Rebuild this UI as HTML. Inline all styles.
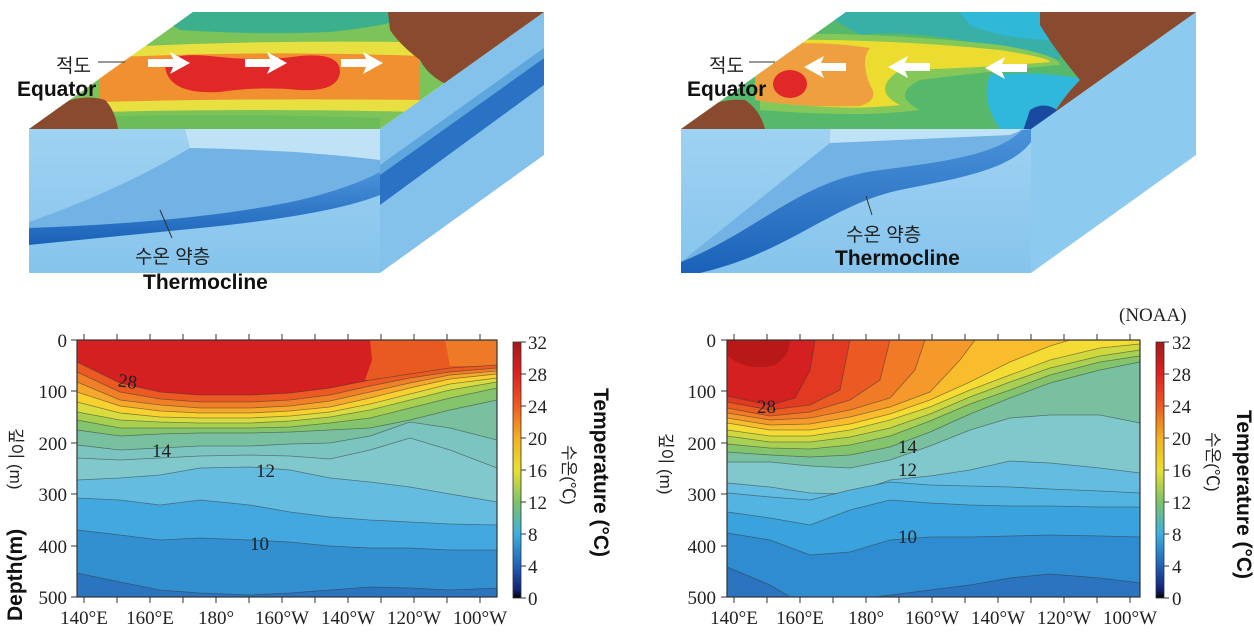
<!DOCTYPE html>
<html><head><meta charset="utf-8"><style>
html,body{margin:0;padding:0;background:#fff;width:1254px;height:635px;overflow:hidden}
svg text{font-family:"Liberation Serif","Noto Serif CJK SC",serif}
.s{font-family:"Liberation Sans","Noto Sans CJK KR",sans-serif}
.tk{font-size:19px;fill:#222}
.cl{font-size:19px;fill:#222}
.ln{stroke:#333;stroke-opacity:.55;stroke-width:.8}
</style></head><body>
<svg width="1254" height="635" viewBox="0 0 1254 635" xmlns="http://www.w3.org/2000/svg">
<defs>
<linearGradient id="cb" x1="0" y1="0" x2="0" y2="1">
<stop offset="0" stop-color="#a51a1a"/><stop offset=".125" stop-color="#e02020"/><stop offset=".25" stop-color="#f05a20"/><stop offset=".375" stop-color="#f5b020"/><stop offset=".5" stop-color="#e8e030"/><stop offset=".625" stop-color="#7cc36a"/><stop offset=".75" stop-color="#3cb0e0"/><stop offset=".875" stop-color="#2060b8"/><stop offset=".97" stop-color="#102070"/><stop offset="1" stop-color="#000"/>
</linearGradient>
<linearGradient id="fr" x1="0" y1="0" x2="0" y2="1"><stop offset="0" stop-color="#9fd2f2"/><stop offset="1" stop-color="#86c4ec"/></linearGradient>
<linearGradient id="th" x1="0" y1="0" x2="0" y2="1"><stop offset="0" stop-color="#4a92d8"/><stop offset="1" stop-color="#1a62b8"/></linearGradient>
<clipPath id="tl"><polygon points="29,129 380,129 544,12 193,12"/></clipPath>
<clipPath id="tr"><polygon points="681,129 1031,129 1196,12 846,12"/></clipPath>
</defs>

<!-- LEFT BOX -->
<rect x="29" y="129" width="351" height="144" fill="url(#fr)"/>
<polygon points="185,129 380,129 380,165 300,152 190,148" fill="#bfe2f7"/>
<path d="M29,222 Q120,190 190,148 Q300,150 380,160 L380,190 Q300,205 200,218 Q100,228 29,238 Z" fill="#72b2e4"/>
<path d="M29,228 Q200,222 300,200 Q350,188 380,172 L380,195 Q330,215 200,228 Q100,238 29,245 Z" fill="url(#th)"/>
<polygon points="380,129 544,12 544,155 380,273" fill="#84c2ec"/>
<polygon points="380,175 544,58 544,85 380,205" fill="#2a72c4"/>
<polygon points="380,165 544,48 544,58 380,175" fill="#5ea6de"/>
<g clip-path="url(#tl)">
<rect x="0" y="0" width="600" height="140" fill="#7cc45a"/>
<path d="M150,12 L420,12 Q400,25 330,32 Q250,35 180,30 Z" fill="#3cb08c"/>
<path d="M100,48 Q250,40 400,42 L420,60 L420,112 Q250,108 100,112 Z" fill="#e8e040"/>
<path d="M100,58 Q250,50 420,56 L420,100 Q250,98 100,102 Z" fill="#f09030"/>
<path d="M165,66 Q170,52 210,56 Q260,62 300,56 Q340,52 340,72 Q338,92 300,90 Q260,86 220,92 Q168,95 165,66 Z" fill="#e02828"/>
<path d="M60,118 Q200,112 380,118 L380,140 L60,140 Z" fill="#6cbc5a"/>
<path d="M388,12 L560,12 L460,90 Q430,80 420,60 Q400,45 390,30 Z" fill="#8a4a30"/>
<path d="M20,129 L118,129 Q115,110 105,100 Q90,95 70,100 Z" fill="#8a4a30"/>
<polygon points="148,59 173,59 170,52 190,63 170,74 173,67 148,67" fill="#fff"/>
<polygon points="245,59 270,59 267,52 287,63 267,74 270,67 245,67" fill="#fff"/>
<polygon points="341,59 366,59 363,52 383,63 363,74 366,67 341,67" fill="#fff"/>
</g>
<text x="56" y="72" class="s" font-size="19" fill="#222">적도</text>
<line x1="98" y1="62" x2="125" y2="62" stroke="#333" stroke-width="1"/>
<text x="17" y="96" class="s" font-size="21" font-weight="bold" fill="#111">Equator</text>
<line x1="160" y1="210" x2="172" y2="238" stroke="#333" stroke-width="1"/>
<text x="135" y="263" class="s" font-size="19" fill="#222">수온 약층</text>
<text x="143" y="289" class="s" font-size="21" font-weight="bold" fill="#111">Thermocline</text>

<!-- RIGHT BOX -->
<rect x="681" y="129" width="350" height="144" fill="url(#fr)"/>
<polygon points="830,129 1020,129 1015,138 830,145" fill="#bfe2f7"/>
<path d="M681,262 L830,143 L1010,135 L1022,130 C1000,152 960,160 880,170 C800,180 760,230 681,262 Z" fill="#72b2e4"/>
<path d="M681,262 C760,230 800,180 880,170 C960,160 1000,152 1022,130 L1031,129 L1031,142 C1010,170 960,178 900,190 C830,205 790,252 700,273 L681,273 Z" fill="url(#th)"/>
<polygon points="1031,129 1196,12 1196,155 1031,273" fill="#8ccaf0"/>
<g clip-path="url(#tr)">
<rect x="600" y="0" width="700" height="140" fill="#56b86a"/>
<path d="M820,12 L1060,12 L1060,60 Q1000,50 960,40 Q900,30 860,35 Z" fill="#38b0a8"/>
<path d="M960,12 L1050,12 L1050,40 Q1000,38 970,25 Z" fill="#30b8d8"/>
<path d="M760,35 Q860,30 1000,45 Q1060,55 1060,65 Q1000,70 920,80 Q890,95 920,110 Q860,118 760,110 Z" fill="#84c85a"/>
<path d="M760,40 Q880,38 1000,50 Q1050,58 1050,62 Q980,68 900,70 Q870,90 900,105 Q840,112 760,100 Z" fill="#ecdc30"/>
<path d="M755,45 Q820,40 870,48 Q860,60 870,85 Q880,100 860,106 Q800,108 755,100 Z" fill="#eea040"/>
<ellipse cx="790" cy="84" rx="17" ry="14" fill="#e02828"/>
<path d="M990,75 Q1040,70 1090,80 L1060,129 L1000,129 Q980,100 990,75 Z" fill="#30b8dc"/>
<path d="M1030,110 Q1045,100 1060,112 L1050,140 L1020,140 Z" fill="#1a4aa0"/>
<path d="M1040,12 L1210,12 L1110,80 Q1080,100 1060,129 L1045,129 Q1060,100 1080,80 Q1055,50 1040,25 Z" fill="#8a4a30"/>
<path d="M660,129 L765,129 Q760,110 745,100 Q720,98 700,110 Z" fill="#8a4a30"/>
<polygon points="846,63 821,63 824,56 804,67 824,78 821,71 846,71" fill="#fff"/>
<polygon points="930,63 905,63 908,56 888,67 908,78 905,71 930,71" fill="#fff"/>
<polygon points="1027,64 1002,64 1005,57 985,68 1005,79 1002,72 1027,72" fill="#fff"/>
</g>
<text x="709" y="72" class="s" font-size="19" fill="#222">적도</text>
<line x1="749" y1="62" x2="775" y2="62" stroke="#333" stroke-width="1"/>
<text x="687" y="96" class="s" font-size="21" font-weight="bold" fill="#111">Equator</text>
<line x1="866" y1="196" x2="872" y2="215" stroke="#333" stroke-width="1"/>
<text x="846" y="241" class="s" font-size="19" fill="#222">수온 약층</text>
<text x="835" y="265" class="s" font-size="21" font-weight="bold" fill="#111">Thermocline</text>

<!-- LEFT CHART -->
<g>
<rect x="77" y="340" width="420" height="257" fill="#d42020"/>
<path d="M370,340 L372,360 L365,380 L497,380 L497,340 Z" fill="#e85a22"/>
<path d="M445,340 L450,366 L497,366 L497,340 Z" fill="#ee7a28"/>
<g class="ln">
<path d="M77,597 L77,362 L120,383 L160,392 L200,395 L250,395 L290,393 L330,388 L370,380 L410,374 L450,368 L497,365 L497,597 Z" fill="#ea5a22"/>
<path d="M77,597 L77,372 L120,392 L160,399 L200,402 L250,402 L290,400 L330,395 L370,386 L410,378 L450,372 L497,368 L497,597 Z" fill="#f08028"/>
<path d="M77,597 L77,382 L120,400 L160,405 L200,408 L250,408 L290,406 L330,401 L370,392 L410,383 L450,375 L497,371 L497,597 Z" fill="#f5a82c"/>
<path d="M77,597 L77,392 L120,406 L160,411 L200,413 L250,413 L290,411 L330,407 L370,398 L410,388 L450,379 L497,374 L497,597 Z" fill="#f8d030"/>
<path d="M77,597 L77,402 L120,413 L160,417 L200,418 L250,418 L290,416 L330,412 L370,404 L410,394 L450,384 L497,378 L497,597 Z" fill="#d8dc40"/>
<path d="M77,597 L77,412 L120,420 L160,422 L200,423 L250,423 L290,421 L330,417 L370,410 L410,400 L450,390 L497,382 L497,597 Z" fill="#a8d050"/>
<path d="M77,597 L77,420 L120,428 L160,428 L200,428 L250,428 L290,427 L330,423 L370,418 L410,408 L450,398 L497,388 L497,597 Z" fill="#84c46c"/>
<path d="M77,597 L77,430 L120,436 L160,434 L200,433 L250,433 L290,432 L330,430 L370,428 L410,420 L450,410 L497,400 L497,597 Z" fill="#78c0a0"/>
<path d="M77,597 L77,445 L120,450 L160,448 L200,446 L250,446 L290,444 L330,443 L370,436 L410,422 L450,428 L497,440 L497,597 Z" fill="#7cc4c0"/>
<path d="M77,597 L77,458 L120,460 L160,458 L200,456 L250,455 L290,456 L330,459 L370,450 L410,438 L450,450 L497,468 L497,597 Z" fill="#80c8cc"/>
<path d="M77,597 L77,480 L120,478 L160,475 L200,468 L250,467 L290,470 L330,478 L370,482 L410,487 L450,494 L497,502 L497,597 Z" fill="#64bce0"/>
<path d="M77,597 L77,498 L120,500 L160,505 L200,500 L250,505 L290,512 L330,517 L370,520 L410,522 L450,524 L497,525 L497,597 Z" fill="#44a8e0"/>
<path d="M77,597 L77,530 L120,535 L160,540 L200,538 L250,540 L290,542 L330,546 L370,548 L410,548 L450,550 L497,550 L497,597 Z" fill="#3290d0"/>
<path d="M77,597 L77,573 L120,582 L160,590 L200,593 L250,595 L290,593 L330,590 L370,587 L410,588 L450,590 L497,588 L497,597 Z" fill="#2a74c0"/>
</g>
<rect x="77" y="340" width="420" height="257" fill="none" stroke="#333" stroke-width="1.2"/>
<text x="118" y="388" class="cl" transform="rotate(8 130 382)">28</text>
<text x="152" y="457" class="cl">14</text>
<text x="256" y="477" class="cl">12</text>
<text x="250" y="550" class="cl">10</text>
<g stroke="#333" stroke-width="1">
<path d="M84,597v6M117,597v6M150,597v6M183,597v6M216,597v6M249,597v6M282,597v6M315,597v6M348,597v6M381,597v6M414,597v6M447,597v6M480,597v6"/>
<path d="M84,340v-6M117,340v-6M150,340v-6M183,340v-6M216,340v-6M249,340v-6M282,340v-6M315,340v-6M348,340v-6M381,340v-6M414,340v-6M447,340v-6M480,340v-6"/>
<path d="M77,340h-6M77,391h-6M77,443h-6M77,494h-6M77,546h-6M77,597h-6"/>
</g>
<g class="tk" text-anchor="end">
<text x="67" y="347">0</text><text x="67" y="398">100</text><text x="67" y="450">200</text><text x="67" y="501">300</text><text x="67" y="553">400</text><text x="67" y="604">500</text>
</g>
<g class="tk" text-anchor="middle">
<text x="84" y="624">140°E</text><text x="150" y="624">160°E</text><text x="216" y="624">180°</text><text x="282" y="624">160°W</text><text x="348" y="624">140°W</text><text x="414" y="624">120°W</text><text x="480" y="624">100°W</text>
</g>
<rect x="513" y="342" width="8" height="256" fill="url(#cb)" stroke="#333" stroke-width=".8"/>
<g stroke="#333"><path d="M521,342h5M521,374h5M521,406h5M521,438h5M521,470h5M521,502h5M521,534h5M521,566h5M521,598h5"/></g>
<g class="tk">
<text x="528" y="349">32</text><text x="528" y="381">28</text><text x="528" y="413">24</text><text x="528" y="445">20</text><text x="528" y="477">16</text><text x="528" y="509">12</text><text x="528" y="541">8</text><text x="528" y="573">4</text><text x="528" y="605">0</text>
</g>
<text class="s" font-size="17" fill="#222" transform="translate(563,445) rotate(90)">수온(℃)</text>
<text class="s" font-size="21" font-weight="bold" fill="#111" transform="translate(594,388) rotate(90)">Temperature (°C)</text>
<text class="s" font-size="17" fill="#222" transform="translate(10,428) rotate(90)">깊이 (m)</text>
<text class="s" font-size="21" font-weight="bold" fill="#111" transform="translate(22,621) rotate(-90)">Depth(m)</text>
</g>

<!-- RIGHT CHART -->
<g>
<rect x="727" y="340" width="413" height="257" fill="#d42020"/>
<path d="M727,340 L727,355 Q745,372 775,365 Q790,355 790,340 Z" fill="#b81818"/>
<g class="ln">
<path d="M727,597 L727,396 L770,405 L795,398 L810,370 L815,340 L1140,340 L1140,597 Z" fill="#e23a22"/>
<path d="M727,597 L727,402 L770,410 L810,405 L840,390 L850,340 L1140,340 L1140,597 Z" fill="#ea5a22"/>
<path d="M727,597 L727,408 L770,416 L810,412 L850,400 L880,380 L890,340 L1140,340 L1140,597 Z" fill="#f07a26"/>
<path d="M727,597 L727,413 L770,420 L810,418 L850,410 L890,398 L915,370 L925,340 L1140,340 L1140,597 Z" fill="#f59a2a"/>
<path d="M727,597 L727,418 L770,425 L810,424 L850,417 L890,407 L930,392 L960,360 L975,340 L1140,340 L1140,597 Z" fill="#f8bc2c"/>
<path d="M727,597 L727,423 L770,430 L810,430 L850,424 L890,414 L930,400 L970,382 L1010,362 L1050,346 L1070,340 L1140,340 L1140,597 Z" fill="#f5dc34"/>
<path d="M727,597 L727,430 L770,436 L810,436 L850,430 L890,420 L930,407 L970,390 L1010,375 L1050,360 L1100,348 L1140,344 L1140,597 Z" fill="#d0d840"/>
<path d="M727,597 L727,436 L770,442 L810,442 L850,437 L890,428 L930,414 L970,397 L1010,382 L1050,368 L1100,356 L1140,350 L1140,597 Z" fill="#a8d054"/>
<path d="M727,597 L727,444 L770,448 L810,449 L850,445 L890,436 L930,421 L970,404 L1010,390 L1050,375 L1100,362 L1140,356 L1140,597 Z" fill="#84c46c"/>
<path d="M727,597 L727,452 L770,455 L810,457 L850,455 L890,447 L930,432 L970,414 L1010,398 L1050,383 L1100,370 L1140,362 L1140,597 Z" fill="#78c0a0"/>
<path d="M727,597 L727,462 L770,462 L810,466 L850,468 L890,460 L930,446 L970,430 L1010,418 L1050,415 L1100,415 L1140,423 L1140,597 Z" fill="#80c8cc"/>
<path d="M727,597 L727,483 L770,487 L810,493 L850,494 L890,480 L930,476 L970,470 L1010,461 L1050,463 L1100,468 L1140,473 L1140,597 Z" fill="#64bce0"/>
<path d="M727,597 L727,493 L770,497 L810,500 L850,490 L890,482 L930,485 L970,486 L1010,487 L1050,489 L1100,491 L1140,493 L1140,597 Z" fill="#52b4e0"/>
<path d="M727,597 L727,512 L770,518 L810,525 L850,510 L890,500 L930,503 L970,505 L1010,506 L1050,506 L1100,507 L1140,507 L1140,597 Z" fill="#3aa2dc"/>
<path d="M727,597 L727,533 L770,540 L810,555 L850,552 L890,540 L930,537 L970,537 L1010,536 L1050,535 L1100,536 L1140,537 L1140,597 Z" fill="#2f8cd0"/>
<path d="M727,597 L727,567 L770,585 L790,597 L875,597 L930,590 L970,585 L1010,578 L1050,574 L1100,578 L1140,583 L1140,597 Z" fill="#2a74c0"/>
</g>
<rect x="727" y="340" width="413" height="257" fill="none" stroke="#333" stroke-width="1.2"/>
<text x="757" y="413" class="cl">28</text>
<text x="898" y="453" class="cl">14</text>
<text x="898" y="476" class="cl">12</text>
<text x="898" y="543" class="cl">10</text>
<g stroke="#333" stroke-width="1">
<path d="M734,597v6M767,597v6M800,597v6M833,597v6M866,597v6M899,597v6M932,597v6M965,597v6M998,597v6M1031,597v6M1064,597v6M1097,597v6M1130,597v6"/>
<path d="M734,340v-6M767,340v-6M800,340v-6M833,340v-6M866,340v-6M899,340v-6M932,340v-6M965,340v-6M998,340v-6M1031,340v-6M1064,340v-6M1097,340v-6M1130,340v-6"/>
<path d="M727,340h-6M727,391h-6M727,443h-6M727,494h-6M727,546h-6M727,597h-6"/>
</g>
<g class="tk" text-anchor="end">
<text x="716" y="347">0</text><text x="716" y="398">100</text><text x="716" y="450">200</text><text x="716" y="501">300</text><text x="716" y="553">400</text><text x="716" y="604">500</text>
</g>
<g class="tk" text-anchor="middle">
<text x="734" y="624">140°E</text><text x="800" y="624">160°E</text><text x="866" y="624">180°</text><text x="932" y="624">160°W</text><text x="998" y="624">140°W</text><text x="1064" y="624">120°W</text><text x="1130" y="624">100°W</text>
</g>
<text x="1119" y="321" class="tk">(NOAA)</text>
<rect x="1156" y="342" width="8" height="256" fill="url(#cb)" stroke="#333" stroke-width=".8"/>
<g stroke="#333"><path d="M1164,342h5M1164,374h5M1164,406h5M1164,438h5M1164,470h5M1164,502h5M1164,534h5M1164,566h5M1164,598h5"/></g>
<g class="tk">
<text x="1172" y="349">32</text><text x="1172" y="381">28</text><text x="1172" y="413">24</text><text x="1172" y="445">20</text><text x="1172" y="477">16</text><text x="1172" y="509">12</text><text x="1172" y="541">8</text><text x="1172" y="573">4</text><text x="1172" y="605">0</text>
</g>
<text class="s" font-size="17" fill="#222" transform="translate(1207,432) rotate(90)">수온(℃)</text>
<text class="s" font-size="21" font-weight="bold" fill="#111" transform="translate(1237,410) rotate(90)">Temperature (°C)</text>
<text class="s" font-size="17" fill="#222" transform="translate(660,433) rotate(90)">깊이 (m)</text>
</g>
</svg>
</body></html>
